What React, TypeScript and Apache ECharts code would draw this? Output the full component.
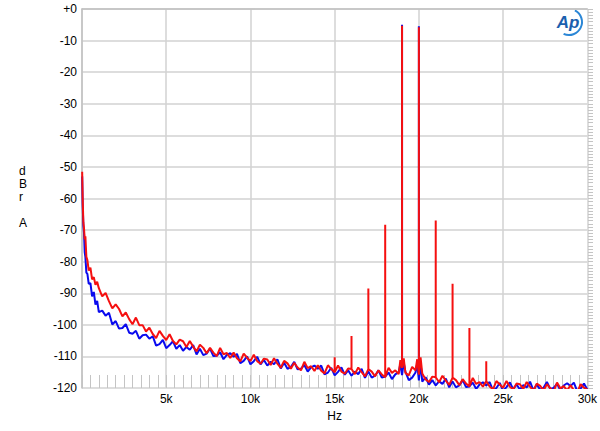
import React, { useEffect, useRef } from 'react';
import * as echarts from 'echarts';

// low end of the noise floor, measured at uneven frequencies (Hz)
const lowFreqs = [10, 40, 80, 120, 160, 200, 260, 320, 400, 500, 600, 700, 800, 900];
const lowRed = [-51.5, -60, -67.5, -69.5, -73, -72, -78.5, -79.5, -82.8, -81.9, -85.6, -84.9, -87.3, -86.4];
const lowBlue = [-53, -62, -68.5, -71, -77, -78.5, -83.5, -83.9, -87.0, -86.8, -91.0, -89.6, -93.6, -92.4];

// rest of the floor, one value every 200 Hz from 1 kHz to 30 kHz
const floorStart = 1000;
const floorStep = 200;
const redFloor = [
  -88.4, -91.0, -89.9, -92.5, -94.8,
  -93.5, -95.0, -97.3, -96.1, -98.2,
  -99.8, -97.7, -100.1, -100.1, -102.1,
  -100.9, -102.9, -104.2, -101.9, -103.5,
  -104.8, -103.0, -105.1, -106.2, -104.7,
  -105.2, -107.0, -105.1, -106.9, -108.4,
  -106.3, -107.3, -109.0, -107.3, -108.8,
  -109.9, -107.3, -109.3, -108.9, -110.5,
  -108.8, -110.6, -111.6, -109.1, -110.4,
  -111.5, -109.5, -111.5, -112.3, -110.7,
  -111.0, -112.7, -110.6, -112.3, -113.6,
  -111.4, -112.2, -113.9, -112.0, -113.5,
  -114.4, -111.7, -113.7, -113.1, -114.6,
  -112.8, -114.5, -115.4, -112.8, -114.0,
  -115.0, -112.9, -114.8, -115.5, -113.8,
  -114.0, -115.6, -113.5, -115.0, -116.3,
  -114.0, -114.8, -116.3, -114.4, -115.7,
  -116.6, -113.6, -115.2, -114.4, -115.6,
  -113.6, -115.2, -116.0, -113.3, -114.4,
  -115.8, -115.4, -117.3, -118.1, -116.4,
  -116.6, -118.2, -116.1, -117.7, -119.0,
  -116.7, -117.5, -119.1, -117.2, -118.6,
  -119.5, -116.8, -118.7, -118.1, -119.6,
  -117.8, -119.5, -120.4, -117.8, -118.9,
  -119.9, -117.8, -119.6, -120.4, -118.6,
  -118.8, -120.3, -118.1, -119.6, -120.8,
  -118.6, -119.3, -120.8, -118.8, -120.1,
  -121.1, -118.3, -120.1, -119.4, -120.8,
  -119.1, -120.7, -121.5, -118.8, -119.9,
  -120.5,
];
const blueFloor = [
  -96.0, -95.5, -97.1, -96.2, -99.9,
  -98.8, -101.2, -101.0, -99.8, -102.5,
  -102.8, -101.9, -104.4, -103.3, -103.1,
  -104.4, -103.6, -106.6, -106.1, -104.8,
  -107.4, -106.4, -105.2, -107.6, -106.4,
  -108.2, -107.0, -107.9, -106.4, -109.4,
  -107.6, -109.6, -109.1, -107.5, -109.9,
  -109.8, -108.7, -110.9, -109.5, -109.0,
  -110.1, -109.2, -112.1, -111.4, -110.0,
  -112.5, -111.5, -110.1, -112.5, -111.1,
  -112.9, -111.7, -112.5, -110.9, -113.8,
  -112.0, -113.9, -113.4, -111.7, -114.1,
  -113.9, -112.7, -114.8, -113.5, -112.9,
  -113.9, -112.9, -115.7, -115.1, -113.6,
  -116.0, -114.9, -113.5, -115.8, -114.4,
  -116.1, -114.8, -115.6, -113.9, -116.8,
  -114.8, -116.7, -116.1, -114.4, -116.7,
  -116.4, -115.1, -117.2, -115.7, -115.0,
  -115.9, -114.8, -117.5, -116.7, -115.1,
  -117.6, -118.0, -116.6, -118.9, -117.5,
  -119.2, -117.9, -118.7, -117.0, -119.8,
  -117.9, -119.8, -119.2, -117.5, -119.7,
  -119.5, -118.3, -120.3, -118.9, -118.2,
  -119.2, -118.1, -120.8, -120.0, -118.4,
  -120.9, -119.7, -118.2, -120.4, -118.9,
  -120.5, -119.1, -119.8, -118.0, -120.8,
  -118.8, -120.6, -119.9, -118.1, -120.3,
  -120.0, -118.7, -120.7, -119.2, -118.5,
  -119.4, -118.3, -121.0, -120.2, -118.6,
  -120.5,
];

// raised floor either side of the two test tones
const skirtFreqs = [18900, 19100, 19900, 20100];
const skirtRed = [-111.2, -110.6, -110.9, -110.3];
const skirtBlue = [-112.5, -112.0, -112.3, -111.8];

// tones and intermodulation products
const redSpikeFreqs = [15000, 16000, 17000, 18000, 19000, 20000, 21000, 22000, 23000, 24000];
const redPeaks = [-110.3, -103.5, -88.5, -68.3, -5.3, -5.8, -67.0, -87.0, -101.0, -111.5];
const blueSpikeFreqs = [19000, 20000];
const bluePeaks = [-5.0, -5.5];

const buildTrace = (
  low: number[],
  floor: number[],
  skirt: number[],
  spikeFreqs: number[],
  peaks: number[]
) => {
  const pts: number[][] = [];
  lowFreqs.forEach((f, i) => pts.push([f, low[i]]));
  floor.forEach((v, i) => pts.push([floorStart + i * floorStep, v]));
  skirtFreqs.forEach((f, i) => pts.push([f, skirt[i]]));
  pts.sort((a, b) => a[0] - b[0]);
  spikeFreqs.forEach((f, i) => {
    const k = pts.findIndex((p) => p[0] === f);
    if (k >= 0) pts.splice(k + 1, 0, [f, peaks[i]], [f, pts[k][1]]);
  });
  return pts;
};

const GRID = { left: 82, right: 12, top: 9, bottom: 43 };
const CHART_W = 600;
const CHART_H = 431;

const App: React.FC = () => {
  const chartRef = useRef<HTMLDivElement>(null);

  useEffect(() => {
    document.body.style.margin = '0';
    if (!chartRef.current) return;
    const chart = echarts.init(chartRef.current, undefined, { renderer: 'svg' });

    const font = "'Liberation Sans', Arial, sans-serif";
    const gridColor = '#d2d2d2';
    const tickColor = '#c4c4c4';
    const plotW = CHART_W - GRID.left - GRID.right;
    const plotH = CHART_H - GRID.top - GRID.bottom;

    const option: echarts.EChartsOption = {
      animation: false,
      backgroundColor: '#ffffff',
      grid: GRID,
      xAxis: [
        {
          type: 'value',
          position: 'bottom',
          min: 0,
          max: 30000,
          interval: 5000,
          name: 'Hz',
          nameLocation: 'middle',
          nameGap: 22,
          nameTextStyle: { color: '#000', fontSize: 12, fontFamily: font },
          axisLine: { lineStyle: { color: '#c0c0c0', width: 1.5 } },
          axisTick: { show: false },
          splitLine: { lineStyle: { color: gridColor, width: 1.5 } },
          axisLabel: {
            color: '#000',
            fontSize: 12,
            fontFamily: font,
            margin: 5,
            formatter: (v: number) => (v === 0 ? '' : `${v / 1000}k`),
          },
        },
        {
          // minor ticks every 500 Hz: a top axis pushed down onto the bottom edge, ticks point up
          type: 'value',
          position: 'top',
          offset: -plotH,
          min: 0,
          max: 30000,
          interval: 500,
          axisLine: { show: false },
          axisLabel: { show: false },
          splitLine: { show: false },
          axisTick: { show: true, length: 13, lineStyle: { color: tickColor, width: 1 } },
        },
      ],
      yAxis: [
        {
          type: 'value',
          position: 'left',
          min: -120,
          max: 0,
          interval: 10,
          axisLine: { show: true, lineStyle: { color: '#c0c0c0', width: 1.5 } },
          axisTick: { show: false },
          splitLine: { lineStyle: { color: gridColor, width: 1.5 } },
          axisLabel: {
            color: '#000',
            fontSize: 12,
            fontFamily: font,
            margin: 5,
            formatter: (v: number) => (v === 0 ? '+0' : String(v)),
          },
        },
        {
          // minor ticks every 1 dB: a right axis pulled onto the left edge, ticks point right
          type: 'value',
          position: 'right',
          offset: -plotW,
          min: -120,
          max: 0,
          interval: 1,
          axisLine: { show: false },
          axisLabel: { show: false },
          splitLine: { show: false },
          axisTick: { show: true, length: 5, lineStyle: { color: tickColor, width: 1 } },
        },
      ],
      graphic: [
        {
          type: 'text',
          left: 19,
          top: 164,
          style: {
            text: 'd\nB\nr\n\nA',
            fill: '#000',
            fontSize: 12,
            lineHeight: 13,
            fontFamily: font,
            align: 'center',
          },
        },
        {
          type: 'text',
          x: 568,
          y: 22,
          style: {
            text: 'Ap',
            fill: '#1b5fae',
            fontSize: 17,
            fontStyle: 'italic',
            fontWeight: 'bold',
            fontFamily: font,
            align: 'center',
            verticalAlign: 'middle',
          },
        },
        {
          type: 'arc',
          shape: { cx: 569, cy: 22, r: 13, startAngle: -1.1, endAngle: 2.0 },
          style: { stroke: '#2a86d6', lineWidth: 2, fill: 'none' },
        },
      ],
      series: [
        {
          name: 'blue',
          type: 'line',
          showSymbol: false,
          symbol: 'none',
          clip: true,
          lineStyle: { color: '#0a0aee', width: 2, join: 'bevel' },
          data: buildTrace(lowBlue, blueFloor, skirtBlue, blueSpikeFreqs, bluePeaks),
          z: 3,
        },
        {
          name: 'red',
          type: 'line',
          showSymbol: false,
          symbol: 'none',
          clip: true,
          lineStyle: { color: '#f51010', width: 2, join: 'bevel' },
          data: buildTrace(lowRed, redFloor, skirtRed, redSpikeFreqs, redPeaks),
          z: 4,
        },
      ],
    };

    chart.setOption(option);
    return () => {
      chart.dispose();
    };
  }, []);

  return <div ref={chartRef} style={{ width: `${CHART_W}px`, height: `${CHART_H}px` }} />;
};

export default App;
